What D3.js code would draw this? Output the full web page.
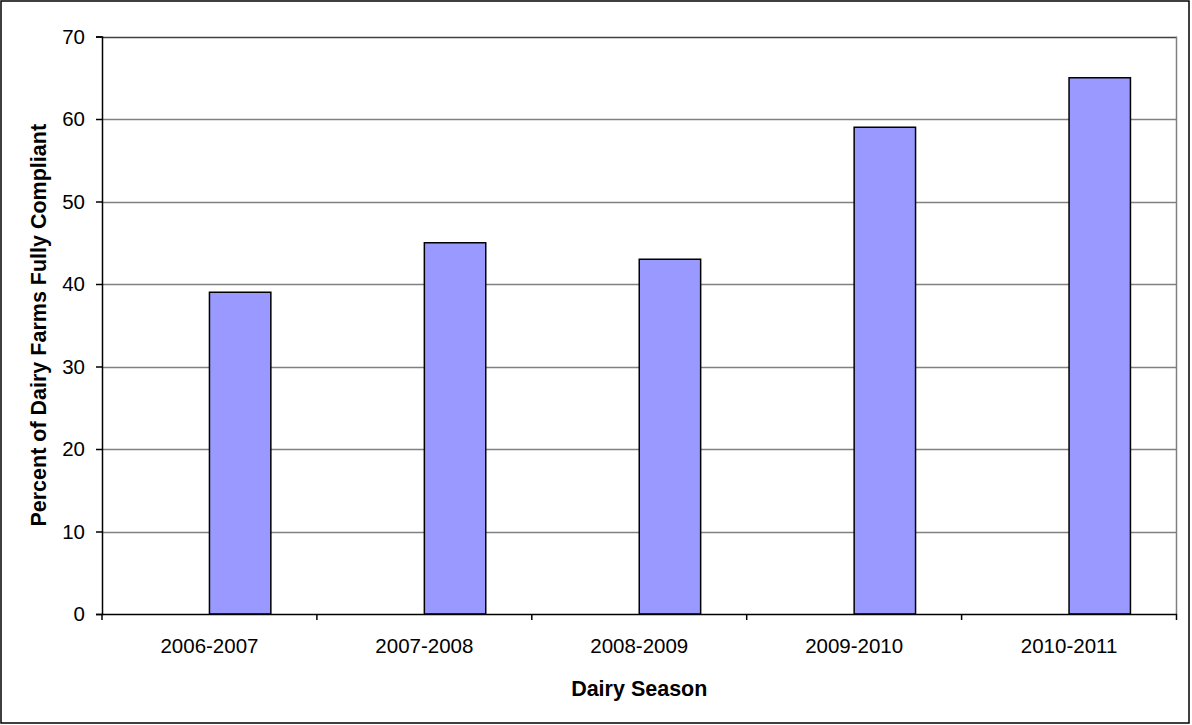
<!DOCTYPE html>
<html>
<head>
<meta charset="utf-8">
<script src="https://cdn.jsdelivr.net/npm/d3@7"></script>
<style>
  body { margin: 0; background: #fff; }
  text { font-family: "Liberation Sans", Arial, sans-serif; fill: #000; }
</style>
</head>
<body>
<div id="chart"></div>
<script>
var seasons = ['2006-2007', '2007-2008', '2008-2009', '2009-2010', '2010-2011'];
var percentCompliant = [39, 45, 43, 59, 65];
var yTicks = [0, 10, 20, 30, 40, 50, 60, 70];

var width = 1192, height = 725;
var plot = { left: 102, top: 36.5, right: 1176.5, bottom: 614 };

var svg = d3.select('#chart').append('svg')
    .attr('width', width)
    .attr('height', height);

// outer frame
svg.append('rect')
    .attr('x', 1).attr('y', 1)
    .attr('width', 1188).attr('height', 722)
    .attr('fill', '#fff')
    .attr('stroke', '#000')
    .attr('stroke-width', 1.5);

var x = d3.scaleBand()
    .domain(seasons)
    .range([plot.left, plot.right]);

var y = d3.scaleLinear()
    .domain([0, 70])
    .range([plot.bottom, plot.top]);

// bar width per excel default: gap 150% with an empty companion series
var barW = x.bandwidth() / 3.5;

// grid lines
svg.append('g').selectAll('line')
    .data(yTicks.filter(function(d) { return d > 0; }))
  .enter().append('line')
    .attr('x1', plot.left).attr('x2', plot.right)
    .attr('y1', function(d) { return Math.round(y(d)) + 0.5; })
    .attr('y2', function(d) { return Math.round(y(d)) + 0.5; })
    .attr('stroke', function(d) { return d === 70 ? '#404040' : '#808080'; })
    .attr('stroke-width', 1.5);

// right border of plot
svg.append('line')
    .attr('x1', plot.right).attr('x2', plot.right)
    .attr('y1', plot.top).attr('y2', plot.bottom)
    .attr('stroke', '#808080')
    .attr('stroke-width', 1.5);

// bars
svg.append('g').selectAll('rect')
    .data(percentCompliant)
  .enter().append('rect')
    .attr('x', function(d, i) { return x(seasons[i]) + x.bandwidth() / 2; })
    .attr('y', function(d) { return y(d); })
    .attr('width', barW)
    .attr('height', function(d) { return y(0) - y(d); })
    .attr('fill', '#9999ff')
    .attr('stroke', '#000')
    .attr('stroke-width', 1.5);

// y axis
var yAxis = svg.append('g')
    .attr('transform', 'translate(' + plot.left + ',0)')
    .call(d3.axisLeft(y).tickValues(yTicks).tickSize(6).tickPadding(11));
yAxis.select('.domain').attr('stroke', '#000').attr('stroke-width', 1.5);
yAxis.selectAll('.tick line').attr('stroke', '#000').attr('stroke-width', 1.5);
yAxis.selectAll('text').style('font-size', '20.5px').attr('font-family', null);

// x axis
var xAxis = svg.append('g')
    .attr('transform', 'translate(0,' + plot.bottom + ')')
    .call(d3.axisBottom(x).tickSize(0).tickPadding(24));
xAxis.select('.domain').attr('stroke', '#000').attr('stroke-width', 1.5);
xAxis.selectAll('text').style('font-size', '20.5px').attr('font-family', null);

// x ticks at category boundaries
svg.append('g').selectAll('line')
    .data(seasons.concat(['end']))
  .enter().append('line')
    .attr('x1', function(d, i) { return plot.left + i * x.step(); })
    .attr('x2', function(d, i) { return plot.left + i * x.step(); })
    .attr('y1', plot.bottom)
    .attr('y2', plot.bottom + 6)
    .attr('stroke', '#000')
    .attr('stroke-width', 1.5);

// axis titles
svg.append('text')
    .attr('x', (plot.left + plot.right) / 2)
    .attr('y', 696)
    .attr('text-anchor', 'middle')
    .style('font-size', '21.5px')
    .style('font-weight', 'bold')
    .text('Dairy Season');

svg.append('text')
    .attr('transform', 'translate(46,' + (plot.top + plot.bottom) / 2 + ') rotate(-90)')
    .attr('text-anchor', 'middle')
    .style('font-size', '21.5px')
    .style('font-weight', 'bold')
    .text('Percent of Dairy Farms Fully Compliant');
</script>
</body>
</html>
